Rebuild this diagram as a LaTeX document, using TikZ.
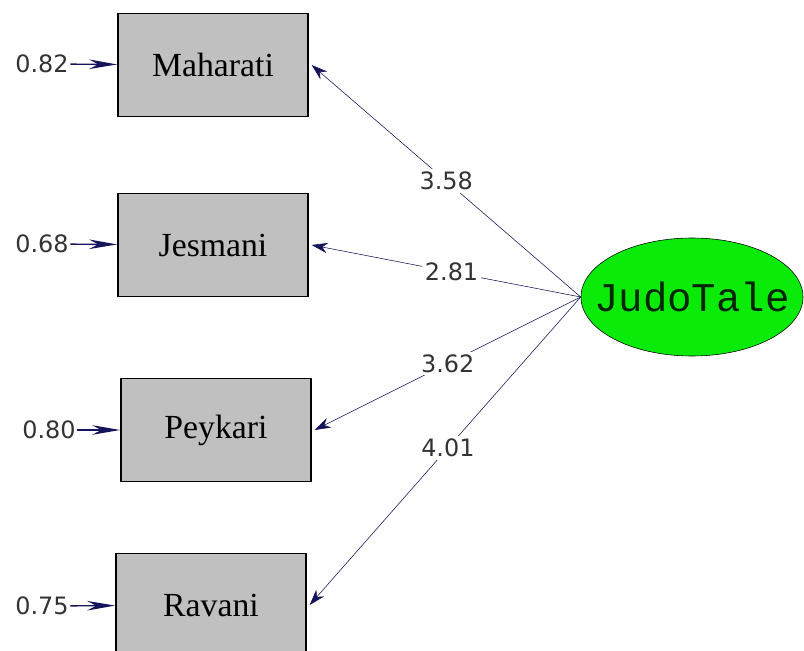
\documentclass[tikz,border=0pt]{standalone}
\usepackage{fontspec}
\setmainfont{Liberation Serif}
\setsansfont{DejaVu Sans}
\setmonofont{Liberation Mono}
\usetikzlibrary{arrows.meta, shapes.geometric}
\definecolor{pathnavy}{RGB}{20,20,90}
\definecolor{boxgray}{RGB}{192,192,192}
\definecolor{latentgreen}{RGB}{10,235,10}

\begin{document}
\begin{tikzpicture}[
    x = 0.025cm,
    y = -0.025cm,
    observed/.style = {draw, line width = 1.2pt, fill = boxgray, minimum width = 4.75cm, minimum height = 2.575cm, font = \fontsize{24}{26}\selectfont},
    latent/.style = {draw, ellipse, fill = latentgreen, minimum width = 5.55cm, minimum height = 2.95cm, inner sep = 0pt, text = black!85!green, font = \ttfamily\fontsize{29}{31}\selectfont},
    errlabel/.style = {text = black!80, font = \sffamily\fontsize{17}{19}\selectfont, inner sep = 1pt},
    coef/.style = {fill = white, text = black!80, font = \sffamily\fontsize{17}{19}\selectfont, inner sep = 2pt},
    loading/.style = {-{Stealth[length=4mm,width=2.6mm]}, pathnavy, thin},
    errarrow/.style = {-{Stealth[length=7mm,width=2.4mm]}, pathnavy, line width = 1pt}
  ]
    \clip (0, 0) rectangle (804, 651);
    \node[observed] (maharati) at (213, 65) {Maharati};
    \node[observed] (jesmani) at (213, 245) {Jesmani};
    \node[observed] (peykari) at (216, 430) {Peykari};
    \node[observed] (ravani) at (211, 605) {Ravani};
    \node[latent] (judo_tale) at (692, 297) {\makebox[0pt]{JudoTale}};
    \node[errlabel] (err_maharati) at (42, 64) {0.82};
    \node[errlabel] (err_jesmani) at (42, 244) {0.68};
    \node[errlabel] (err_peykari) at (49, 430) {0.80};
    \node[errlabel] (err_ravani) at (42, 606) {0.75};
    \draw[errarrow] (err_maharati) -- (maharati);
    \draw[errarrow] (err_jesmani) -- (jesmani);
    \draw[errarrow] (err_peykari) -- (peykari);
    \draw[errarrow] (err_ravani) -- (ravani);
    \draw[loading] (judo_tale.west) -- node[coef, pos = 0.5] {3.58} ([xshift=2pt]maharati.east);
    \draw[loading] (judo_tale.west) -- node[coef, pos = 0.48] {2.81} ([xshift=2pt]jesmani.east);
    \draw[loading] (judo_tale.west) -- node[coef, pos = 0.5] {3.62} ([xshift=2pt]peykari.east);
    \draw[loading] (judo_tale.west) -- node[coef, pos = 0.49] {4.01} ([xshift=2pt]ravani.east);
  \end{tikzpicture}
\end{document}
